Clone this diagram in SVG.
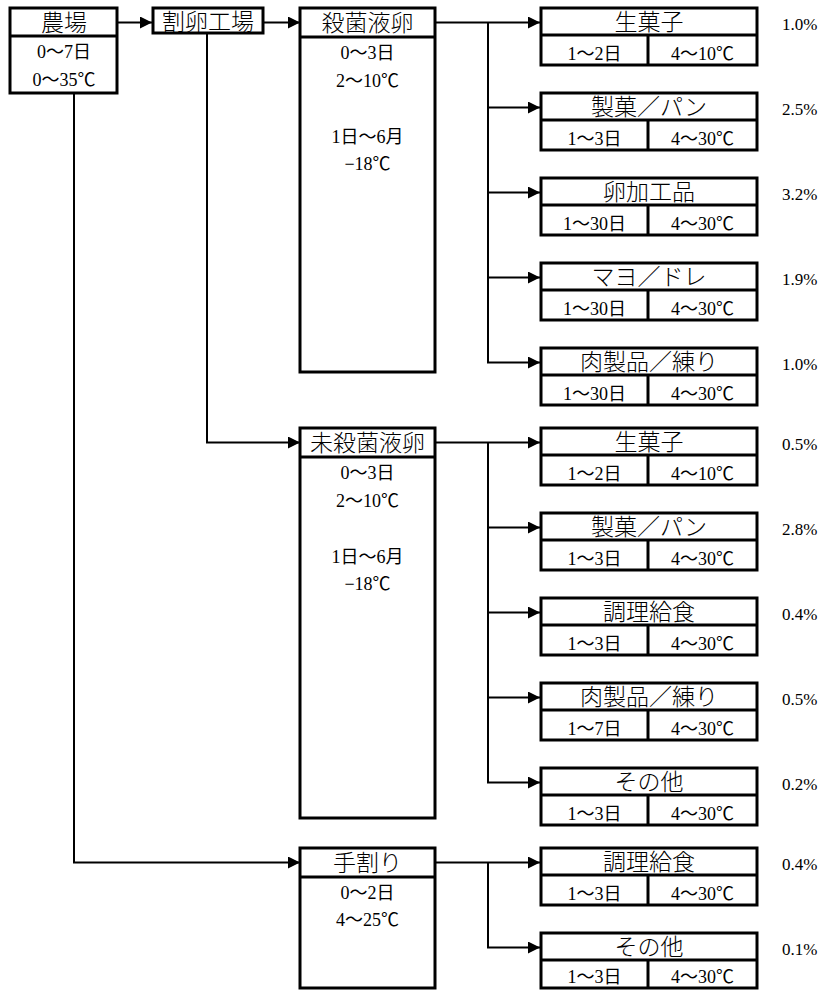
<svg xmlns="http://www.w3.org/2000/svg" width="829" height="990" viewBox="0 0 829 990" font-family="'Liberation Serif','Noto Sans CJK JP',serif">
<style>
.bx{fill:#fff;stroke:#000;stroke-width:3}
.dv{stroke:#000;stroke-width:3;fill:none}
.cn{stroke:#000;stroke-width:2;fill:none}
text{font-family:"Liberation Serif","Noto Sans CJK JP",serif;fill:#000;text-anchor:middle}
.h{font-size:23px;font-weight:300;font-family:"Noto Sans CJK JP",sans-serif}
.s{font-size:18px}
.m{font-size:18px}
.p{font-size:17px;text-anchor:start}
</style>
<defs>
<marker id="ah" markerUnits="userSpaceOnUse" markerWidth="13" markerHeight="12" refX="12" refY="6" orient="auto">
<path d="M0,0 L12,6 L0,12 Z" fill="#000"/>
</marker>
</defs>
<rect width="829" height="990" fill="#fff"/>
<g id="connectors">
<line class="cn" x1="117" y1="22.5" x2="152" y2="22.5" marker-end="url(#ah)"/>
<line class="cn" x1="263" y1="22.5" x2="300" y2="22.5" marker-end="url(#ah)"/>
<line class="cn" x1="435" y1="22.5" x2="540" y2="22.5" marker-end="url(#ah)"/>
<line class="cn" x1="488" y1="22.5" x2="488" y2="362.5"/>
<line class="cn" x1="487" y1="107.5" x2="540" y2="107.5" marker-end="url(#ah)"/>
<line class="cn" x1="487" y1="192.5" x2="540" y2="192.5" marker-end="url(#ah)"/>
<line class="cn" x1="487" y1="277.5" x2="540" y2="277.5" marker-end="url(#ah)"/>
<line class="cn" x1="487" y1="362.5" x2="540" y2="362.5" marker-end="url(#ah)"/>
<polyline class="cn" points="207,33 207,442.5 300,442.5" marker-end="url(#ah)"/>
<line class="cn" x1="435" y1="442.5" x2="540" y2="442.5" marker-end="url(#ah)"/>
<line class="cn" x1="488" y1="442.5" x2="488" y2="782.5"/>
<line class="cn" x1="487" y1="527.5" x2="540" y2="527.5" marker-end="url(#ah)"/>
<line class="cn" x1="487" y1="612.5" x2="540" y2="612.5" marker-end="url(#ah)"/>
<line class="cn" x1="487" y1="697.5" x2="540" y2="697.5" marker-end="url(#ah)"/>
<line class="cn" x1="487" y1="782.5" x2="540" y2="782.5" marker-end="url(#ah)"/>
<polyline class="cn" points="74,93 74,862.5 300,862.5" marker-end="url(#ah)"/>
<line class="cn" x1="435" y1="862.5" x2="540" y2="862.5" marker-end="url(#ah)"/>
<polyline class="cn" points="488,862.5 488,947.5 540,947.5" marker-end="url(#ah)"/>
</g>
<g id="farm">
<rect class="bx" x="10" y="8" width="107" height="85"/>
<line class="dv" x1="10" y1="36" x2="117" y2="36"/>
<text class="h" x="64" y="31">農場</text>
<text class="m" x="64" y="58">0～7日</text>
<text class="m" x="64" y="86">0～35℃</text>
</g>
<g id="breaking-plant">
<rect class="bx" x="153" y="8" width="110" height="25"/>
<text class="h" x="208" y="30">割卵工場</text>
</g>
<g id="pasteurized">
<rect class="bx" x="300" y="8" width="135" height="364"/>
<line class="dv" x1="300" y1="37" x2="435" y2="37"/>
<text class="h" x="367.5" y="31">殺菌液卵</text>
<text class="m" x="367.5" y="59">0～3日</text>
<text class="m" x="367.5" y="87">2～10℃</text>
<text class="m" x="367.5" y="143">1日～6月</text>
<text class="m" x="367.5" y="170">−18℃</text>
</g>
<g id="unpasteurized">
<rect class="bx" x="300" y="428" width="135" height="390"/>
<line class="dv" x1="300" y1="457" x2="435" y2="457"/>
<text class="h" x="367.5" y="451">未殺菌液卵</text>
<text class="m" x="367.5" y="479">0～3日</text>
<text class="m" x="367.5" y="507">2～10℃</text>
<text class="m" x="367.5" y="563">1日～6月</text>
<text class="m" x="367.5" y="590">−18℃</text>
</g>
<g id="hand-broken">
<rect class="bx" x="300" y="848" width="135" height="140"/>
<line class="dv" x1="300" y1="877" x2="435" y2="877"/>
<text class="h" x="367.5" y="871">手割り</text>
<text class="m" x="367.5" y="899">0～2日</text>
<text class="m" x="367.5" y="926">4～25℃</text>
</g>
<g id="p1">
<rect class="bx" x="541" y="8" width="216" height="57"/>
<line class="dv" x1="541" y1="35" x2="757" y2="35"/><line class="dv" x1="648" y1="35" x2="648" y2="65"/>
<text class="h" x="649" y="30">生菓子</text><text class="s" x="594.5" y="60">1～2日</text><text class="s" x="702.5" y="60">4～10℃</text>
<text class="p" x="782" y="30">1.0%</text>
</g>
<g id="p2">
<rect class="bx" x="541" y="93" width="216" height="57"/>
<line class="dv" x1="541" y1="120" x2="757" y2="120"/><line class="dv" x1="648" y1="120" x2="648" y2="150"/>
<text class="h" x="649" y="115">製菓／パン</text><text class="s" x="594.5" y="145">1～3日</text><text class="s" x="702.5" y="145">4～30℃</text>
<text class="p" x="782" y="115">2.5%</text>
</g>
<g id="p3">
<rect class="bx" x="541" y="178" width="216" height="57"/>
<line class="dv" x1="541" y1="205" x2="757" y2="205"/><line class="dv" x1="648" y1="205" x2="648" y2="235"/>
<text class="h" x="649" y="200">卵加工品</text><text class="s" x="594.5" y="230">1～30日</text><text class="s" x="702.5" y="230">4～30℃</text>
<text class="p" x="782" y="200">3.2%</text>
</g>
<g id="p4">
<rect class="bx" x="541" y="263" width="216" height="57"/>
<line class="dv" x1="541" y1="290" x2="757" y2="290"/><line class="dv" x1="648" y1="290" x2="648" y2="320"/>
<text class="h" x="649" y="285">マヨ／ドレ</text><text class="s" x="594.5" y="315">1～30日</text><text class="s" x="702.5" y="315">4～30℃</text>
<text class="p" x="782" y="285">1.9%</text>
</g>
<g id="p5">
<rect class="bx" x="541" y="348" width="216" height="57"/>
<line class="dv" x1="541" y1="375" x2="757" y2="375"/><line class="dv" x1="648" y1="375" x2="648" y2="405"/>
<text class="h" x="649" y="370">肉製品／練り</text><text class="s" x="594.5" y="400">1～30日</text><text class="s" x="702.5" y="400">4～30℃</text>
<text class="p" x="782" y="370">1.0%</text>
</g>
<g id="u1">
<rect class="bx" x="541" y="428" width="216" height="57"/>
<line class="dv" x1="541" y1="455" x2="757" y2="455"/><line class="dv" x1="648" y1="455" x2="648" y2="485"/>
<text class="h" x="649" y="450">生菓子</text><text class="s" x="594.5" y="480">1～2日</text><text class="s" x="702.5" y="480">4～10℃</text>
<text class="p" x="782" y="450">0.5%</text>
</g>
<g id="u2">
<rect class="bx" x="541" y="513" width="216" height="57"/>
<line class="dv" x1="541" y1="540" x2="757" y2="540"/><line class="dv" x1="648" y1="540" x2="648" y2="570"/>
<text class="h" x="649" y="535">製菓／パン</text><text class="s" x="594.5" y="565">1～3日</text><text class="s" x="702.5" y="565">4～30℃</text>
<text class="p" x="782" y="535">2.8%</text>
</g>
<g id="u3">
<rect class="bx" x="541" y="598" width="216" height="57"/>
<line class="dv" x1="541" y1="625" x2="757" y2="625"/><line class="dv" x1="648" y1="625" x2="648" y2="655"/>
<text class="h" x="649" y="620">調理給食</text><text class="s" x="594.5" y="650">1～3日</text><text class="s" x="702.5" y="650">4～30℃</text>
<text class="p" x="782" y="620">0.4%</text>
</g>
<g id="u4">
<rect class="bx" x="541" y="683" width="216" height="57"/>
<line class="dv" x1="541" y1="710" x2="757" y2="710"/><line class="dv" x1="648" y1="710" x2="648" y2="740"/>
<text class="h" x="649" y="705">肉製品／練り</text><text class="s" x="594.5" y="735">1～7日</text><text class="s" x="702.5" y="735">4～30℃</text>
<text class="p" x="782" y="705">0.5%</text>
</g>
<g id="u5">
<rect class="bx" x="541" y="768" width="216" height="57"/>
<line class="dv" x1="541" y1="795" x2="757" y2="795"/><line class="dv" x1="648" y1="795" x2="648" y2="825"/>
<text class="h" x="649" y="790">その他</text><text class="s" x="594.5" y="820">1～3日</text><text class="s" x="702.5" y="820">4～30℃</text>
<text class="p" x="782" y="790">0.2%</text>
</g>
<g id="h1">
<rect class="bx" x="541" y="848" width="216" height="57"/>
<line class="dv" x1="541" y1="875" x2="757" y2="875"/><line class="dv" x1="648" y1="875" x2="648" y2="905"/>
<text class="h" x="649" y="870">調理給食</text><text class="s" x="594.5" y="900">1～3日</text><text class="s" x="702.5" y="900">4～30℃</text>
<text class="p" x="782" y="870">0.4%</text>
</g>
<g id="h2">
<rect class="bx" x="541" y="933" width="216" height="55"/>
<line class="dv" x1="541" y1="960" x2="757" y2="960"/><line class="dv" x1="648" y1="960" x2="648" y2="988"/>
<text class="h" x="649" y="955">その他</text><text class="s" x="594.5" y="983">1～3日</text><text class="s" x="702.5" y="983">4～30℃</text>
<text class="p" x="782" y="955">0.1%</text>
</g>
</svg>
